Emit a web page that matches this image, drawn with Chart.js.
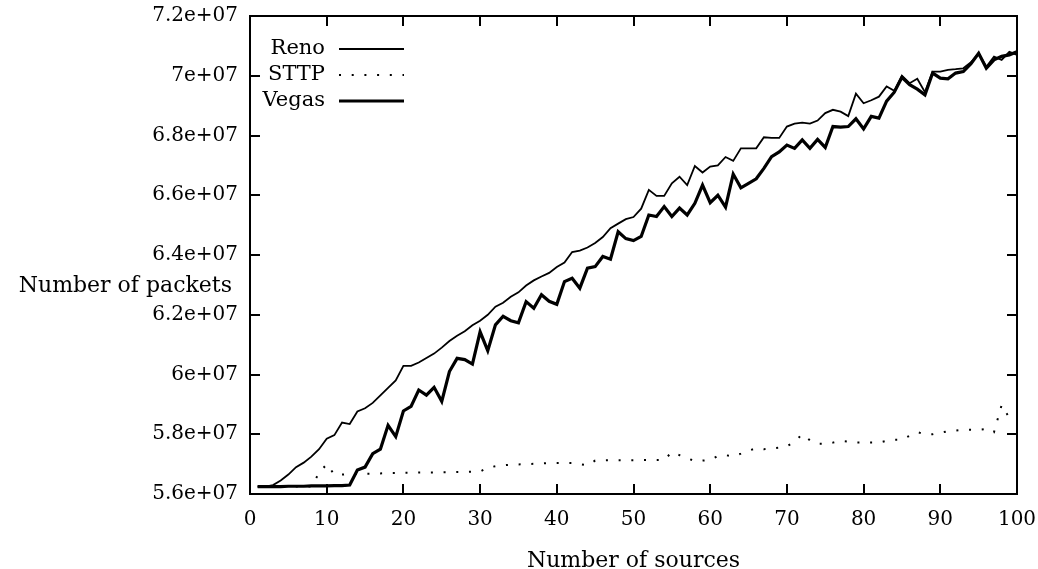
<!DOCTYPE html>
<html>
<head>
<meta charset="utf-8">
<title>Number of packets vs number of sources</title>
<script src="https://cdn.jsdelivr.net/npm/chart.js@4/dist/chart.umd.min.js"></script>
<style>
    html, body { margin: 0; padding: 0; background: #fff; }
    #wrap { width: 1038px; height: 569px; }
</style>
</head>
<body>
<div id="wrap"><canvas id="packetsChart" width="1038" height="569"></canvas></div>
<script>
// values in units of 1e7 packets, one per number of sources (1..100)
const sources = [...Array(100)].map((_, i) => i + 1);

const renoPackets = [
    5.625, 5.625, 5.63, 5.645, 5.665, 5.69, 5.705, 5.725, 5.75, 5.785,
    5.797, 5.839, 5.834, 5.876, 5.887, 5.905, 5.93, 5.955, 5.98, 6.029,
    6.029, 6.04, 6.055, 6.07, 6.09, 6.112, 6.13, 6.145, 6.165, 6.18,
    6.2, 6.227, 6.24, 6.26, 6.275, 6.298, 6.315, 6.328, 6.34, 6.36,
    6.375, 6.41, 6.415, 6.425, 6.44, 6.46, 6.49, 6.505, 6.52, 6.527,
    6.555, 6.618, 6.598, 6.598, 6.64, 6.662, 6.634, 6.698, 6.676, 6.696,
    6.70, 6.728, 6.715, 6.757, 6.757, 6.757, 6.794, 6.792, 6.792, 6.83,
    6.84, 6.843, 6.84, 6.85, 6.875, 6.886, 6.88, 6.865, 6.94, 6.908,
    6.918, 6.93, 6.964, 6.95, 7.0, 6.975, 6.99, 6.945, 7.014, 7.014,
    7.02, 7.022, 7.025, 7.045, 7.075, 7.03, 7.064, 7.053, 7.08, 7.07
];

const sttpPackets = [
    5.625, 5.625, 5.625, 5.625, 5.625, 5.625, 5.625, 5.625, 5.67, 5.70,
    5.665, 5.665, 5.667, 5.667, 5.668, 5.668, 5.669, 5.67, 5.67, 5.671,
    5.671, 5.672, 5.672, 5.672, 5.673, 5.673, 5.674, 5.674, 5.675, 5.675,
    5.688, 5.693, 5.696, 5.698, 5.699, 5.70, 5.701, 5.702, 5.704, 5.704,
    5.704, 5.704, 5.70, 5.696, 5.712, 5.713, 5.713, 5.713, 5.713, 5.713,
    5.714, 5.714, 5.714, 5.714, 5.74, 5.73, 5.72, 5.71, 5.712, 5.714,
    5.727, 5.73, 5.726, 5.735, 5.745, 5.753, 5.75, 5.752, 5.755, 5.76,
    5.775, 5.80, 5.78, 5.768, 5.768, 5.772, 5.778, 5.775, 5.772, 5.772,
    5.772, 5.772, 5.778, 5.782, 5.782, 5.795, 5.807, 5.80, 5.80, 5.805,
    5.81, 5.812, 5.815, 5.815, 5.815, 5.818, 5.807, 5.898, 5.855, 5.86
];

const vegasPackets = [
    5.625, 5.625, 5.625, 5.625, 5.626, 5.626, 5.626, 5.627, 5.627, 5.627,
    5.628, 5.628, 5.63, 5.68, 5.69, 5.735, 5.75, 5.83, 5.792, 5.878,
    5.893, 5.948, 5.931, 5.957, 5.91, 6.01, 6.054, 6.05, 6.035, 6.143,
    6.08, 6.166, 6.195, 6.18, 6.173, 6.244, 6.222, 6.267, 6.245, 6.235,
    6.311, 6.322, 6.289, 6.356, 6.361, 6.395, 6.386, 6.478, 6.455, 6.448,
    6.462, 6.534, 6.529, 6.562, 6.529, 6.557, 6.534, 6.573, 6.634, 6.575,
    6.60, 6.56, 6.671, 6.625, 6.64, 6.655, 6.69, 6.729, 6.745, 6.768,
    6.757, 6.785, 6.757, 6.787, 6.76, 6.83, 6.828, 6.83, 6.856, 6.822,
    6.864, 6.858, 6.915, 6.945, 6.995, 6.97, 6.955, 6.936, 7.009, 6.992,
    6.99, 7.009, 7.014, 7.04, 7.075, 7.025, 7.053, 7.065, 7.07, 7.08
];

const xTicks = [0, 10, 20, 30, 40, 50, 60, 70, 80, 90, 100];
const yTicks = [5.6, 5.8, 6.0, 6.2, 6.4, 6.6, 6.8, 7.0, 7.2];

const FONT = '"DejaVu Serif", "Liberation Serif", serif';

function toPoints(values) {
    return values.map((v, i) => ({ x: sources[i], y: v * 1e7 }));
}

function formatPackets(value) {
    const m = Math.round(value / 1e6) / 10;
    return m + 'e+07';
}

// frame, inward ticks, axis titles and key, drawn the gnuplot way
const gnuplotFrame = {
    id: 'gnuplotFrame',
    afterDraw(chart) {
        const ctx = chart.ctx;
        const area = chart.chartArea;
        const xs = chart.scales.x;
        const ys = chart.scales.y;
        const tick = 10;

        ctx.save();
        ctx.strokeStyle = '#000';
        ctx.lineWidth = 2;
        ctx.strokeRect(area.left, area.top, area.right - area.left, area.bottom - area.top);

        ctx.beginPath();
        xTicks.forEach(v => {
            const px = Math.round(xs.getPixelForValue(v));
            ctx.moveTo(px, area.bottom);
            ctx.lineTo(px, area.bottom - tick);
            ctx.moveTo(px, area.top);
            ctx.lineTo(px, area.top + tick);
        });
        yTicks.forEach(v => {
            const py = Math.round(ys.getPixelForValue(v * 1e7));
            ctx.moveTo(area.left, py);
            ctx.lineTo(area.left + tick, py);
            ctx.moveTo(area.right, py);
            ctx.lineTo(area.right - tick, py);
        });
        ctx.stroke();

        ctx.fillStyle = '#000';
        ctx.textBaseline = 'middle';
        ctx.font = '22px ' + FONT;
        ctx.textAlign = 'right';
        ctx.fillText('Number of packets', 232, 286);
        ctx.textAlign = 'center';
        ctx.fillText('Number of sources', (area.left + area.right) / 2, 561);

        // key
        const keyTextRight = 325;
        const sampleLeft = 339;
        const sampleRight = 404;
        ctx.font = '21px ' + FONT;
        chart.data.datasets.forEach((ds, i) => {
            const y = 49 + i * 26;
            ctx.textAlign = 'right';
            ctx.fillText(ds.label, keyTextRight, y);
            ctx.beginPath();
            ctx.lineWidth = ds.borderWidth;
            ctx.setLineDash(ds.borderDash || []);
            ctx.moveTo(sampleLeft, y);
            ctx.lineTo(sampleRight, y);
            ctx.stroke();
        });
        ctx.restore();
    }
};

const ctx = document.getElementById('packetsChart').getContext('2d');

new Chart(ctx, {
    type: 'line',
    data: {
        datasets: [{
            label: 'Reno',
            data: toPoints(renoPackets),
            borderColor: '#000',
            borderWidth: 1.8,
            pointRadius: 0,
            tension: 0
        }, {
            label: 'STTP',
            data: toPoints(sttpPackets),
            borderColor: '#000',
            borderWidth: 2,
            borderDash: [2, 10.7],
            borderCapStyle: 'butt',
            pointRadius: 0,
            tension: 0
        }, {
            label: 'Vegas',
            data: toPoints(vegasPackets),
            borderColor: '#000',
            borderWidth: 3.2,
            pointRadius: 0,
            tension: 0
        }]
    },
    options: {
        responsive: false,
        animation: false,
        layout: {
            padding: { top: 16, right: 21, left: 0, bottom: 0 }
        },
        scales: {
            x: {
                type: 'linear',
                min: 0,
                max: 100,
                afterBuildTicks: scale => {
                    scale.ticks = xTicks.map(v => ({ value: v }));
                },
                afterFit: scale => {
                    scale.height = 75;
                    scale.paddingLeft = 0;
                    scale.paddingRight = 0;
                },
                grid: { display: false, drawTicks: false },
                border: { display: false },
                ticks: {
                    color: '#000',
                    padding: 14,
                    maxRotation: 0,
                    font: { family: FONT, size: 20 }
                }
            },
            y: {
                type: 'linear',
                min: 5.6e7,
                max: 7.2e7,
                afterBuildTicks: scale => {
                    scale.ticks = yTicks.map(v => ({ value: v * 1e7 }));
                },
                afterFit: scale => {
                    scale.width = 250;
                    scale.paddingTop = 0;
                    scale.paddingBottom = 0;
                },
                grid: { display: false, drawTicks: false },
                border: { display: false },
                ticks: {
                    color: '#000',
                    padding: 12,
                    font: { family: FONT, size: 20 },
                    callback: value => formatPackets(value)
                }
            }
        },
        plugins: {
            legend: { display: false },
            tooltip: { enabled: false }
        }
    },
    plugins: [gnuplotFrame]
});
</script>
</body>
</html>
